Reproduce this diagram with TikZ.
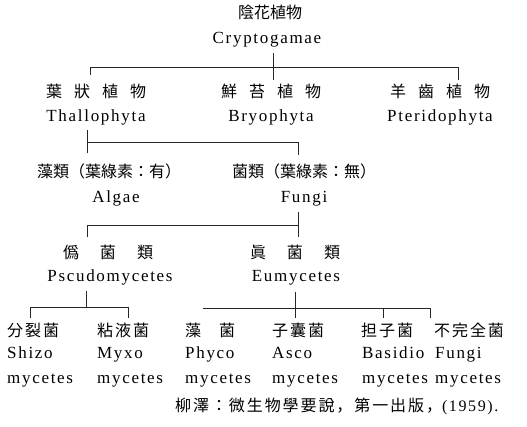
\documentclass[tikz,border=0pt]{standalone}
\usepackage{fontspec}
\setmainfont{Liberation Serif}[LetterSpace=10]
\newfontfamily\cjk{Noto Sans CJK JP}
\newfontfamily\cjks{Noto Sans CJK JP}[LetterSpace=12]
\newcommand\cg[1]{\hspace{#1pt}}
\begin{document}
\begin{tikzpicture}[x=1pt,y=-1pt,
  lat/.style={font=\fontsize{17}{17}\selectfont, inner sep=0pt, anchor=base},
  latw/.style={lat, anchor=base west},
  cj/.style={font=\cjk\fontsize{16}{16}\selectfont, inner sep=0pt, anchor=base},
  cjw/.style={font=\cjks\fontsize{16}{16}\selectfont, inner sep=0pt, anchor=base west},
  link/.style={line width=0.8pt, draw=black!85}]
\useasboundingbox (0,0) rectangle (527,427);
% level 0
\node[cj]  (root)  at (270,19) {陰花植物};
\node[lat] (rootL) at (267,44) {Cryptogamae};
% level 1
\node[cj]  (thal)  at (96,98)  {葉\cg{12}狀\cg{12}植\cg{12}物};
\node[lat] (thalL) at (96,122) {Thallophyta};
\node[cj]  (bryo)  at (271,98) {鮮\cg{12}苔\cg{12}植\cg{12}物};
\node[lat] (bryoL) at (271,122) {Bryophyta};
\node[cj]  (pter)  at (440,98) {羊\cg{12}齒\cg{12}植\cg{12}物};
\node[lat] (pterL) at (440,122) {Pteridophyta};
% level 2
\node[cj]  (alg)   at (109,178) {藻類（葉綠素：有）};
\node[lat] (algL)  at (116,203) {Algae};
\node[cj]  (fun)   at (304,178) {菌類（葉綠素：無）};
\node[lat] (funL)  at (304,203) {Fungi};
% level 3
\node[cj]  (pse)   at (108,259) {僞\cg{21}菌\cg{21}類};
\node[lat] (pseL)  at (110,282) {Pscudomycetes};
\node[cj]  (eu)    at (295,259) {眞\cg{21}菌\cg{21}類};
\node[lat] (euL)   at (296,282) {Eumycetes};
% level 4
\node[cjw]  (s1) at (7,336)   {分裂菌};
\node[latw] (s2) at (7,359)   {Shizo};
\node[latw] (s3) at (7,383)   {mycetes};
\node[cjw]  (m1) at (97,336)  {粘液菌};
\node[latw] (m2) at (97,359)  {Myxo};
\node[latw] (m3) at (97,383)  {mycetes};
\node[cjw]  (p1) at (185,336) {藻\cg{18}菌};
\node[latw] (p2) at (185,359) {Phyco};
\node[latw] (p3) at (185,383) {mycetes};
\node[cjw]  (a1) at (272,336) {子囊菌};
\node[latw] (a2) at (272,359) {Asco};
\node[latw] (a3) at (272,383) {mycetes};
\node[cjw]  (b1) at (361,336) {担子菌};
\node[latw] (b2) at (362,359) {Basidio};
\node[latw] (b3) at (362,383) {mycetes};
\node[cjw]  (f1) at (434,336) {不完全菌};
\node[latw] (f2) at (435,359) {Fungi};
\node[latw] (f3) at (435,383) {mycetes};
% citation
\node[cjw] (cite) at (175,411) {柳澤：微生物學要說，第一出版，{\rmfamily\fontsize{16}{16}\selectfont (1959).}};
% connectors
\coordinate (k1t) at (273,53);  \coordinate (k1b) at (273,80);
\coordinate (k1l) at (90,67);   \coordinate (k1r) at (458,67);
\draw[link] (k1t) -- (k1b);
\draw[link] (k1l) ++(0,8) -- (k1l) -- (k1r) -- ++(0,13);
\coordinate (k2t) at (87,130);  \coordinate (k2b) at (87,153);
\coordinate (k2r) at (298,142);
\draw[link] (k2t) -- (k2b);
\draw[link] (k2t |- k2r) -- (k2r) -- ++(0,13);
\coordinate (k3t) at (298,212); \coordinate (k3b) at (298,237);
\coordinate (k3l) at (87,225);
\draw[link] (k3t) -- (k3b);
\draw[link] (k3l) ++(0,12) -- (k3l) -- (k3l -| k3t);
\coordinate (k4t) at (86,291);  \coordinate (k4m) at (86,307);
\coordinate (k4l) at (30,307);  \coordinate (k4r) at (128,307);
\draw[link] (k4t) -- (k4m);
\draw[link] (k4l) ++(0,11) -- (k4l) -- (k4r) -- ++(0,11);
\coordinate (k5t) at (295,292); \coordinate (k5b) at (295,318);
\coordinate (k5l) at (203,308); \coordinate (k5m) at (383,308);
\coordinate (k5r) at (430,308);
\draw[link] (k5t) -- (k5b);
\draw[link] (k5l) -- (k5r) -- ++(0,10);
\draw[link] (k5m) -- ++(0,10);
\end{tikzpicture}
\end{document}
